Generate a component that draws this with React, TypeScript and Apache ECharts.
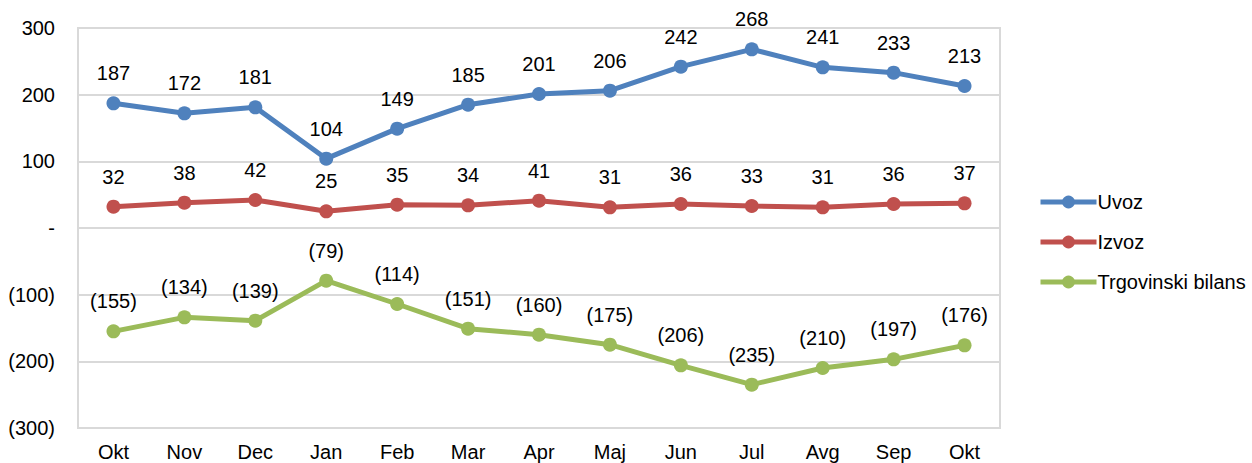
import React, { useEffect, useRef } from "react";
import * as echarts from "echarts";

const categories = ["Okt", "Nov", "Dec", "Jan", "Feb", "Mar", "Apr", "Maj", "Jun", "Jul", "Avg", "Sep", "Okt"];
const uvoz = [187, 172, 181, 104, 149, 185, 201, 206, 242, 268, 241, 233, 213];
const izvoz = [32, 38, 42, 25, 35, 34, 41, 31, 36, 33, 31, 36, 37];
const bilans = [-155, -134, -139, -79, -114, -151, -160, -175, -206, -235, -210, -197, -176];

const fmt = (v: number) => (v === 0 ? "-" : v < 0 ? `(${Math.abs(v)})` : `${v}`);
const FONT = "Liberation Sans, Arial, sans-serif";
const FS = 20;

export default function App() {
  const ref = useRef<HTMLDivElement>(null);
  useEffect(() => {
    if (!ref.current) return;
    const chart = echarts.init(ref.current, undefined, { renderer: "svg" });
    const mk = (name: string, data: number[], color: string) => ({
      name,
      type: "line",
      data,
      symbol: "circle",
      symbolSize: 14,
      lineStyle: { width: 5, color },
      itemStyle: { color },
      label: {
        show: true,
        position: "top",
        distance: 13,
        color: "#000",
        fontSize: FS,
        fontFamily: FONT,
        formatter: (p: any) => fmt(p.value),
      },
    });
    chart.setOption({
      animation: false,
      textStyle: { fontFamily: FONT },
      grid: {
        left: 78,
        right: 252,
        top: 28,
        bottom: 35,
        show: true,
        borderColor: "#d9d9d9",
        borderWidth: 2,
      },
      legend: {
        orient: "vertical",
        left: 1033,
        top: 187,
        itemWidth: 56,
        itemHeight: 16,
        itemGap: 20,
        lineStyle: { width: 5 },
        textStyle: { fontSize: FS, fontFamily: FONT, color: "#000", padding: [0, 0, 0, -4] },
        data: ["Uvoz", "Izvoz", "Trgovinski bilans"],
      },
      xAxis: {
        type: "category",
        data: categories,
        boundaryGap: true,
        axisLine: { show: false },
        axisTick: { show: false },
        axisLabel: { fontSize: FS, color: "#000", fontFamily: FONT, margin: 14 },
      },
      yAxis: {
        type: "value",
        min: -300,
        max: 300,
        interval: 100,
        axisLine: { show: false },
        axisTick: { show: false },
        splitLine: { lineStyle: { color: "#d9d9d9", width: 2 } },
        axisLabel: {
          fontSize: FS,
          color: "#000",
          fontFamily: FONT,
          margin: 23,
          formatter: (v: number) => fmt(v),
        },
      },
      series: [
        mk("Uvoz", uvoz, "#4f81bd"),
        mk("Izvoz", izvoz, "#c0504d"),
        mk("Trgovinski bilans", bilans, "#9bbb59"),
      ],
    });
    return () => chart.dispose();
  }, []);
  return <div ref={ref} style={{ width: 1252, height: 463, position: "absolute", left: 0, top: 0 }} />;
}
